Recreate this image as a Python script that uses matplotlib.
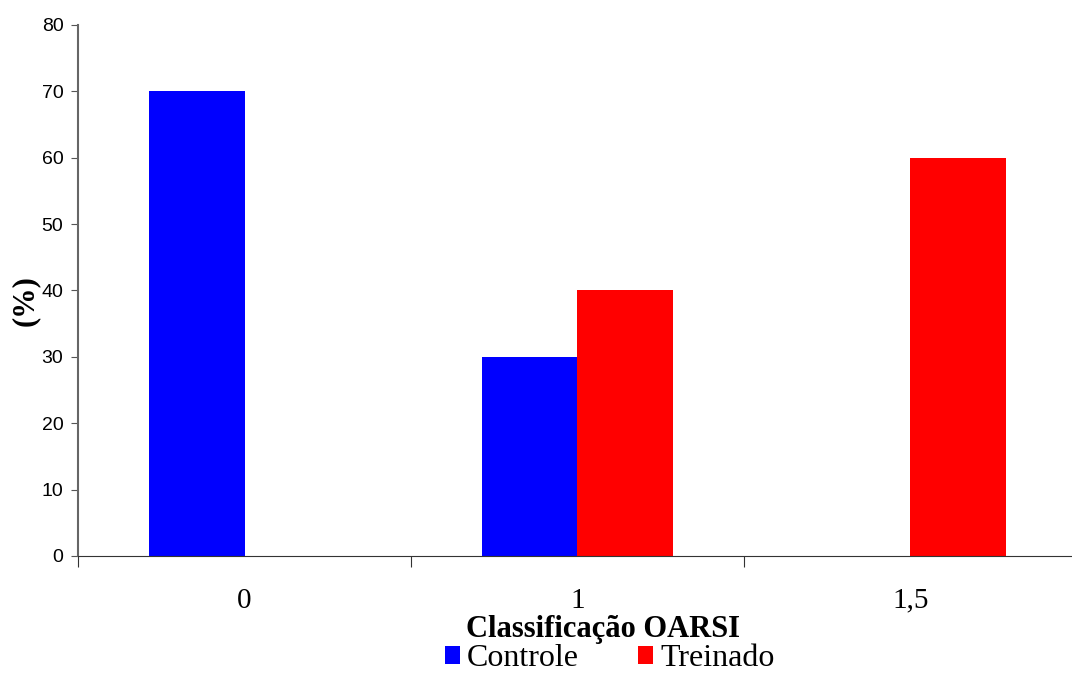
import numpy as np
import matplotlib
matplotlib.use('Agg')
import matplotlib.pyplot as plt

categorias = ['0', '1', '1,5']
controle = [70, 30, 0]
treinado = [0, 40, 60]

serif = 'Liberation Serif'
sans = 'Liberation Sans'

fig = plt.figure(figsize=(10.72, 6.73), dpi=100)
ax = fig.add_axes([0.0728, 0.174, 0.9318, 0.789])

x = np.arange(len(categorias)) + 0.5
w = 0.288
ax.bar(x - w / 2, controle, w, color='#0000ff', label='Controle')
ax.bar(x + w / 2, treinado, w, color='#ff0000', label='Treinado')

ax.set_xlim(0, 3)
ax.set_ylim(0, 80)
ax.set_yticks(range(0, 81, 10))
for t in ax.get_yticklabels():
    t.set_fontfamily(sans)
    t.set_fontsize(14)
ax.tick_params(axis='y', direction='out', length=5, color='#555555', pad=5.5)

# category boundaries get the ticks, labels sit in between
ax.set_xticks([0, 1, 2, 3])
ax.set_xticklabels([])
ax.set_xticks(x, minor=True)
ax.set_xticklabels(categorias, minor=True, fontfamily=serif, fontsize=21)
ax.tick_params(axis='x', which='major', direction='out', length=8, color='#333333')
ax.tick_params(axis='x', which='minor', length=0, pad=23)

for s in ['top', 'right']:
    ax.spines[s].set_visible(False)
ax.spines['left'].set_color('#666666')
ax.spines['left'].set_linewidth(1.5)
ax.spines['bottom'].set_color('#333333')

ax.set_xlabel('Classificação OARSI', fontfamily=serif, fontweight='bold', fontsize=22)
ax.xaxis.label.set_va('center')
ax.xaxis.set_label_coords(0.526, -0.139)
ax.set_ylabel('(%)', fontfamily=serif, fontweight='bold', fontsize=22)
ax.yaxis.label.set_va('center')
ax.yaxis.set_label_coords(-0.053, 0.48)

fig.legend(loc='center', bbox_to_anchor=(0.569, 0.021), ncol=2, frameon=False,
           prop={'family': serif, 'size': 23}, handlelength=0.47, handleheight=0.47,
           handletextpad=0.22, columnspacing=1.85, borderpad=0)

fig.savefig('out.png', dpi=100)
